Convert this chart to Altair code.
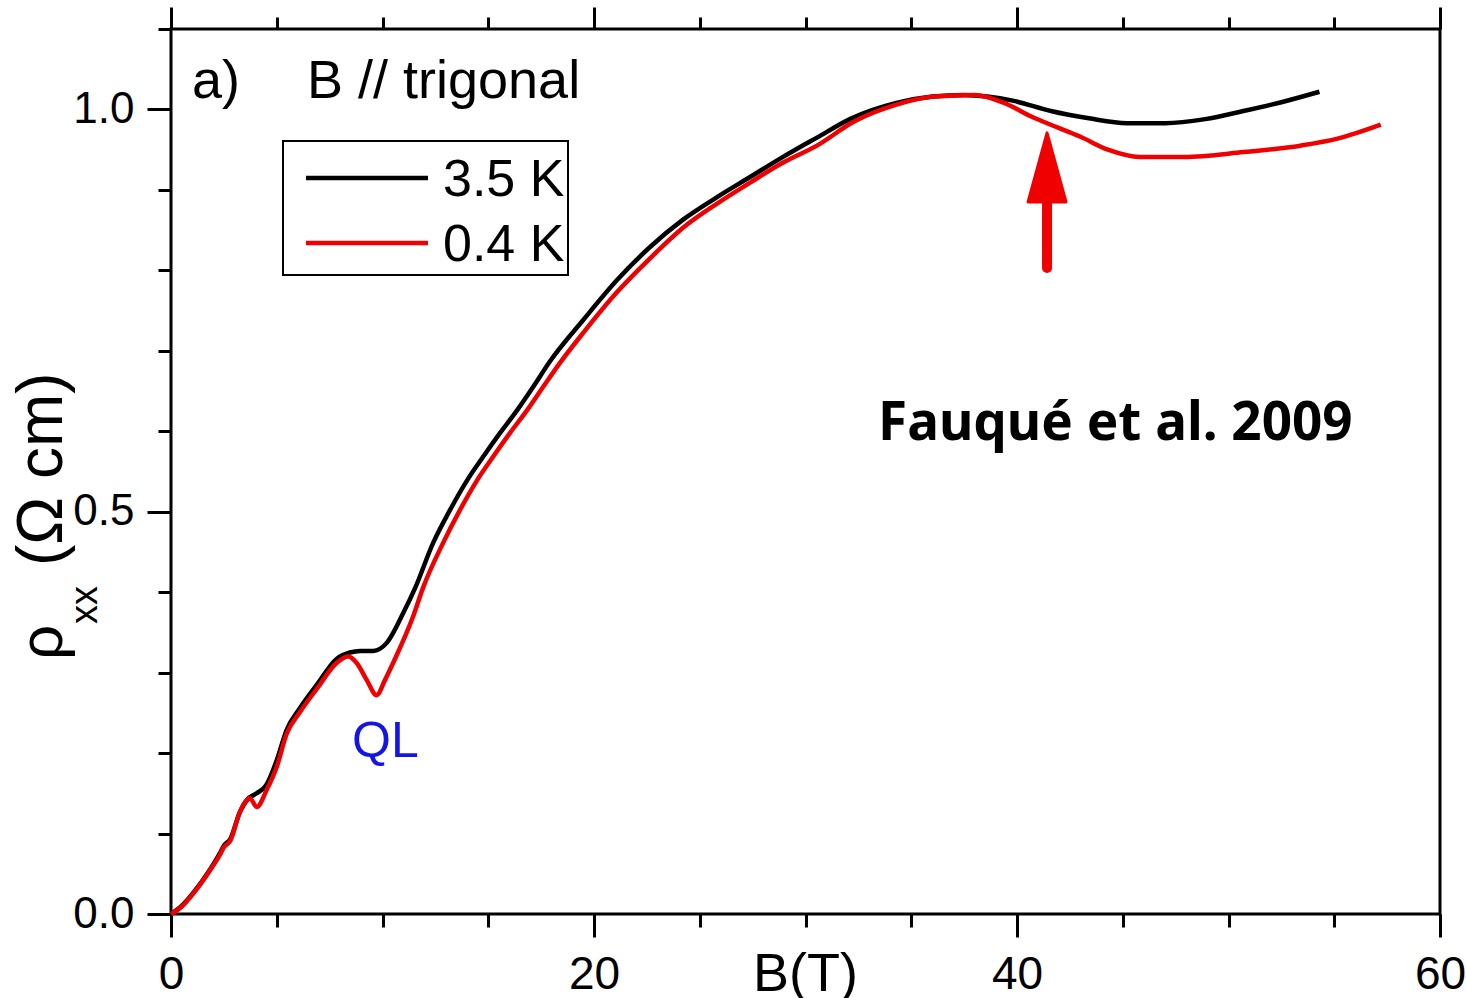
import altair as alt
import pandas as pd

# rho_xx (Ohm cm) versus B (T), B parallel to the trigonal axis
b_35K = [0.0, 0.5, 1.04, 1.84, 2.3, 2.5, 2.8, 3.26, 3.6, 4.05, 4.5, 5.0, 5.47, 6.1,
         6.9, 7.83, 8.46, 8.94, 9.56, 10.2, 10.98, 11.54, 12.39, 13.19, 14.0, 14.75,
         15.56, 16.36, 17.12, 17.92, 19.48, 21.09, 22.65, 24.21, 25.82, 27.38, 28.94,
         30.54, 32.1, 34.3, 36.0, 37.5, 38.6, 39.8, 41.6, 43.4, 45.2, 47.0, 48.9,
         50.7, 52.5, 54.3]
rho_35K = [0.000, 0.010, 0.026, 0.055, 0.075, 0.085, 0.093, 0.127, 0.142, 0.150, 0.160,
           0.191, 0.229, 0.256, 0.285, 0.317, 0.325, 0.327, 0.327, 0.337, 0.374, 0.405,
           0.461, 0.502, 0.539, 0.568, 0.598, 0.626, 0.655, 0.687, 0.738, 0.788, 0.829,
           0.863, 0.891, 0.916, 0.941, 0.965, 0.988, 1.008, 1.016, 1.018, 1.016, 1.011,
           0.998, 0.989, 0.983, 0.983, 0.988, 0.998, 1.009, 1.022]

b_04K = [0.0, 0.5, 1.04, 1.84, 2.3, 2.5, 2.8, 3.26, 3.73, 4.05, 4.52, 5.0, 5.47, 6.1,
         6.9, 7.83, 8.38, 8.78, 9.25, 9.72, 10.12, 10.5, 11.45, 11.91, 12.86, 13.66,
         14.47, 15.22, 16.03, 16.83, 17.59, 18.39, 19.48, 21.09, 22.65, 24.21, 25.82,
         27.38, 28.94, 30.54, 32.3, 34.3, 36.1, 38.0, 39.4, 40.7, 41.6, 43.0, 44.3,
         45.8, 47.9, 50.7, 53.4, 55.2, 57.2]
rho_04K = [0.000, 0.009, 0.025, 0.054, 0.073, 0.083, 0.091, 0.127, 0.144, 0.133, 0.154,
           0.183, 0.224, 0.251, 0.280, 0.312, 0.320, 0.312, 0.291, 0.272, 0.291, 0.312,
           0.370, 0.405, 0.461, 0.502, 0.539, 0.568, 0.598, 0.626, 0.655, 0.685, 0.722,
           0.773, 0.815, 0.853, 0.883, 0.909, 0.934, 0.955, 0.985, 1.006, 1.016, 1.018,
           1.008, 0.991, 0.981, 0.966, 0.950, 0.941, 0.941, 0.947, 0.955, 0.964, 0.981]

x_ticks = list(range(0, 61, 5))
y_ticks = [round(0.1 * i, 1) for i in range(12)]

legend_labels = ["3.5 K", "0.4 K"]
legend_colors = ["#000000", "#f00000"]

# annotation anchors (B, rho)
arrow_b = 41.42
arrow_tail, arrow_neck, arrow_mid = 0.803, 0.90, 0.928

RED = "#f00000"
W, H = 1269, 885
ARIAL = "Liberation Sans"

xs = alt.Scale(domain=[0, 60], nice=False, zero=False)
ys = alt.Scale(domain=[0, 1.1], nice=False, zero=False)

is_major_x = "datum.value % 20 === 0"
is_major_y = "abs(datum.value * 2 - round(datum.value * 2)) < 0.001"

bottom_axis = alt.Axis(
    orient="bottom", values=x_ticks, domain=False, grid=False,
    tickColor="black", tickWidth=3,
    tickSize={"condition": {"test": is_major_x, "value": 23}, "value": 13},
    labelExpr=f"{is_major_x} ? datum.label : ''",
    labelFont=ARIAL, labelFontSize=46, labelColor="black",
    labelPadding=51, labelBaseline="alphabetic", labelFlush=False, labelOverlap=False,
    format="d",
    title="B(T)", titleFont=ARIAL, titleFontSize=54, titleFontWeight="normal",
    titleColor="black", titleX=634, titleY=76, titleAlign="center",
    titleBaseline="alphabetic",
)
top_axis = alt.Axis(
    orient="top", values=x_ticks, domain=False, grid=False, labels=False,
    tickColor="black", tickWidth=3,
    tickSize={"condition": {"test": is_major_x, "value": 22}, "value": 12},
    title=None,
)
left_axis = alt.Axis(
    orient="left", values=y_ticks, domain=False, grid=False,
    tickColor="black", tickWidth=3,
    tickSize={"condition": {"test": is_major_y, "value": 24}, "value": 13},
    labelExpr=f"{is_major_y} ? datum.label : ''",
    labelFont=ARIAL, labelFontSize=44, labelColor="black",
    labelPadding=13, labelFlush=False, labelOverlap=False, format=".1f",
    title=None,
)

df35 = pd.DataFrame({"B": b_35K, "rho": rho_35K})
df04 = pd.DataFrame({"B": b_04K, "rho": rho_04K})

black_line = alt.Chart(df35).mark_line(
    color="black", strokeWidth=4.5, interpolate="monotone"
).encode(
    x=alt.X("B:Q", scale=xs, axis=top_axis),
    y=alt.Y("rho:Q", scale=ys, axis=left_axis),
)
red_line = alt.Chart(df04).mark_line(
    color=RED, strokeWidth=4.5, interpolate="monotone"
).encode(
    x=alt.X("B:Q", scale=xs, axis=bottom_axis),
    y=alt.Y("rho:Q", scale=ys, axis=None),
)


def label(b, r, text, **kw):
    d = pd.DataFrame({"B": [b], "rho": [r], "t": [text]})
    return alt.Chart(d).mark_text(align="left", baseline="alphabetic", **kw).encode(
        x=alt.X("B:Q", scale=xs, axis=None),
        y=alt.Y("rho:Q", scale=ys, axis=None),
        text="t:N",
    )


panel = label(0.99, 1.014, "a)", font=ARIAL, fontSize=54, color="black")
orient = label(6.43, 1.014, "B // trigonal", font=ARIAL, fontSize=54, color="black")
ql = label(8.56, 0.195, "QL", font=ARIAL, fontSize=50, color="#1414e6")
ref = label(33.43, 0.589, "Fauqué et al. 2009", font="Noto Sans", fontSize=53,
            fontWeight="bold", color="black")

arrow_df = pd.DataFrame({"B": [arrow_b], "r0": [arrow_tail], "r1": [arrow_neck],
                         "rm": [arrow_mid]})
shaft = alt.Chart(arrow_df).mark_rule(color=RED, strokeWidth=10, strokeCap="round").encode(
    x=alt.X("B:Q", scale=xs, axis=None),
    y=alt.Y("r0:Q", scale=ys, axis=None),
    y2="r1:Q",
)
head = alt.Chart(arrow_df).mark_point(
    shape="M0,-1L0.55,1L-0.55,1Z", size=4761, filled=True, fill=RED,
    stroke=RED, strokeWidth=3, strokeJoin="round", opacity=1,
).encode(
    x=alt.X("B:Q", scale=xs, axis=None),
    y=alt.Y("rm:Q", scale=ys, axis=None),
)

# legend box drawn inside the plot area
one = pd.DataFrame({"k": [0]})
leg_box = alt.Chart(one).mark_rect(fill="white", stroke="black", strokeWidth=2).encode(
    x=alt.value(112), x2=alt.value(397), y=alt.value(112), y2=alt.value(246)
)
leg_items = []
for i, (lab, col) in enumerate(zip(legend_labels, legend_colors)):
    yy = 149 + 65 * i
    leg_items.append(
        alt.Chart(one).mark_rule(color=col, strokeWidth=4.5).encode(
            x=alt.value(135), x2=alt.value(257), y=alt.value(yy)
        )
    )
    leg_items.append(
        alt.Chart(one).mark_text(
            text=lab, align="left", baseline="alphabetic", font=ARIAL,
            fontSize=52, color="black"
        ).encode(x=alt.value(272), y=alt.value(yy + 18))
    )

# rotated y-axis title: rho with subscript xx, then the unit
yt_rho = alt.Chart(one).mark_text(
    text="ρ", angle=270, align="left", baseline="alphabetic", font=ARIAL,
    fontSize=62, color="black"
).encode(x=alt.value(-109), y=alt.value(631))
yt_sub = alt.Chart(one).mark_text(
    text="xx", angle=270, align="left", baseline="alphabetic", font=ARIAL,
    fontSize=38, color="black"
).encode(x=alt.value(-74), y=alt.value(595))
yt_unit = alt.Chart(one).mark_text(
    text="(Ω cm)", angle=270, align="left", baseline="alphabetic", font=ARIAL,
    fontSize=64, color="black"
).encode(x=alt.value(-109), y=alt.value(537))

chart = alt.layer(
    black_line, red_line, leg_box, *leg_items, panel, orient, ql, ref, shaft, head,
    yt_rho, yt_sub, yt_unit,
).resolve_axis(x="independent", y="independent").properties(
    width=W, height=H,
    autosize=alt.AutoSizeParams(type="none"),
    padding={"left": 171, "top": 29, "right": 26, "bottom": 84},
    background="white",
).configure_view(stroke="black", strokeWidth=3)

chart.save("out.html", embed_options={"renderer": "svg", "actions": False})
